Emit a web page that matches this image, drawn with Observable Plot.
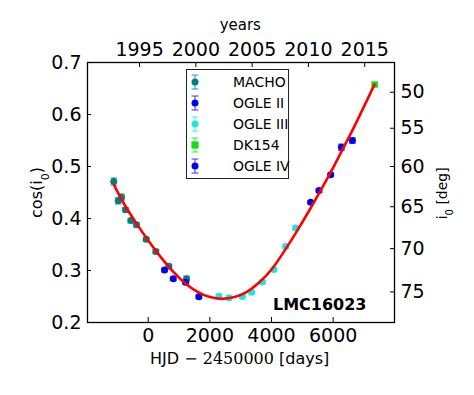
<!DOCTYPE html>
<html><head><meta charset="utf-8">
<script src="https://cdn.jsdelivr.net/npm/d3@7"></script>
<script src="https://cdn.jsdelivr.net/npm/@observablehq/plot@0.6"></script>
<style>
html,body{margin:0;padding:0;background:#fff;}
#wrap{position:relative;width:474px;height:395px;font-family:"DejaVu Sans",sans-serif;}
#wrap svg{position:absolute;left:0;top:0;}
#legend{position:absolute;left:186px;top:69px;width:101px;height:108px;border:1.3px solid #222;background:#fff;}
.row{position:absolute;left:0;height:20px;width:100px;}
.row svg{position:absolute;left:12px;top:0;}
.row span{position:absolute;left:46px;top:1px;font-size:14px;line-height:18px;color:#000;white-space:nowrap;}
</style></head><body><div id="wrap"></div>
<script>
// ---- data ----
const seriesNames  = ["MACHO", "OGLE II", "OGLE III", "DK154", "OGLE IV"];
const seriesColors = ["#007f7f", "#0000f0", "#22e2e2", "#12e012", "#0000f0"];

const machoDays = [-1117, -974, -867, -737, -565, -380, -65, 247, 669, 1244];
const machoCos  = [0.471, 0.434, 0.441, 0.417, 0.396, 0.388, 0.360, 0.3365, 0.308, 0.284];
const machoErr  = [0.007, 0.006, 0.006, 0.004, 0.004, 0.004, 0.004, 0.004, 0.004, 0.005];

const ogle2Days = [529, 812, 1211, 1643];
const ogle2Cos  = [0.301, 0.284, 0.2775, 0.2494];
const ogle2Err  = [0.003, 0.003, 0.003, 0.003];

const ogle3Days = [2292, 2617, 3052, 3354, 3702, 4078, 4458, 4783];
const ogle3Cos  = [0.250, 0.2475, 0.250, 0.2583, 0.2779, 0.3019, 0.3462, 0.3817];
const ogle3Err  = [0.006, 0.004, 0.003, 0.003, 0.003, 0.003, 0.004, 0.004];

const dk154Days = [7348];
const dk154Cos  = [0.6577];
const dk154Err  = [0.003];

const ogle4Days = [5270, 5539, 5919, 6267, 6624];
const ogle4Cos  = [0.4313, 0.4538, 0.484, 0.537, 0.550];
const ogle4Err  = [0.003, 0.003, 0.003, 0.006, 0.005];

// fitted model curve
const fitDays = [-1110, -800, -400, 0, 400, 800, 1200, 1600, 2000, 2400, 2800, 3200, 3600, 4000, 4400, 4800, 5200, 5600, 6000, 6400, 6800, 7340];
const fitCos  = [0.4648, 0.4298, 0.3921, 0.3578, 0.3263, 0.2985, 0.2757, 0.259, 0.2489, 0.2455, 0.2489, 0.2591, 0.277, 0.302, 0.3358, 0.3734, 0.413, 0.4546, 0.498, 0.5434, 0.5906, 0.6575];

// axes
const yTicks    = [0.2, 0.3, 0.4, 0.5, 0.6, 0.7];
const xTicks    = [0, 2000, 4000, 6000];
const yearTicks = [1995, 2000, 2005, 2010, 2015];
const degTicks  = [50, 55, 60, 65, 70, 75];

// ---- build tables ----
const seriesData = [
  [machoDays, machoCos, machoErr],
  [ogle2Days, ogle2Cos, ogle2Err],
  [ogle3Days, ogle3Cos, ogle3Err],
  [dk154Days, dk154Cos, dk154Err],
  [ogle4Days, ogle4Cos, ogle4Err]
];
const rows = [];
seriesData.forEach(([d, c, e], s) => d.forEach((t, i) => rows.push({s: seriesNames[s], col: seriesColors[s], t, c: c[i], e: e[i]})));
const fit = fitDays.map((t, i) => ({t, c: fitCos[i]}));

// year (calendar) -> HJD-2450000 ; degrees -> cos
const yearPos = yearTicks.map(y => (y - 2000) * 365.25 + 1545);
const degPos = degTicks.map(g => Math.cos(g * Math.PI / 180));

const cap = {draw(ctx) { ctx.moveTo(-3.5, 0); ctx.lineTo(3.5, 0); }};

const plot = Plot.plot({
  width: 474, height: 395,
  marginLeft: 87, marginRight: 80, marginTop: 62, marginBottom: 73,
  style: {fontFamily: "DejaVu Sans", fontSize: "19px", color: "black", background: "white"},
  x: {domain: [-1970, 7990]},
  y: {domain: [0.2, 0.7]},
  marks: [
    Plot.ruleX(rows, {x: "t", y1: d => d.c - d.e, y2: d => d.c + d.e, stroke: "col", strokeOpacity: 0.6, strokeWidth: 1.3}),
    Plot.dot(rows, {x: "t", y: d => d.c + d.e, symbol: cap, stroke: "col", strokeOpacity: 0.6, strokeWidth: 1.3, fill: "none"}),
    Plot.dot(rows, {x: "t", y: d => d.c - d.e, symbol: cap, stroke: "col", strokeOpacity: 0.6, strokeWidth: 1.3, fill: "none"}),
    Plot.dot(rows.filter(d => d.s !== "DK154"), {x: "t", y: "c", r: 3.5, fill: "col", stroke: "none"}),
    Plot.dot(rows.filter(d => d.s === "DK154"), {x: "t", y: "c", r: 3.6, symbol: "square", fill: "col", stroke: "none"}),
    Plot.line(fit, {x: "t", y: "c", stroke: "#ff0000", strokeWidth: 2.6, curve: "natural"}),
    Plot.tickY(yTicks, {y: d => d, insetRight: 303, stroke: "black"}),
    Plot.tickY(degPos, {y: d => d, insetLeft: 303, stroke: "black"}),
    Plot.tickX(xTicks, {x: d => d, insetTop: 255, stroke: "black"}),
    Plot.tickX(yearPos, {x: d => d, insetBottom: 255, stroke: "black"}),
    Plot.axisY(yTicks, {anchor: "left", tickSize: 0, tickPadding: 6, tickFormat: d3.format(".1f"), label: null}),
    Plot.axisY(degPos, {anchor: "right", tickSize: 0, tickPadding: 6, tickFormat: d => String(Math.round(Math.acos(d) * 180 / Math.PI)), label: null}),
    Plot.axisX(xTicks, {anchor: "bottom", tickSize: 0, tickPadding: 6, tickFormat: d => String(d), label: null}),
    Plot.axisX(yearPos, {anchor: "top", tickSize: 0, tickPadding: 7, tickFormat: d => String(Math.round(2000 + (d - 1545) / 365.25)), label: null}),
    Plot.frame({stroke: "black", strokeWidth: 1.3}),
    Plot.text(["LMC16023"], {frameAnchor: "bottom-right", text: d => d, textAnchor: "end", lineAnchor: "middle", dx: -28, dy: -18, fontSize: 16, fontWeight: "bold"})
  ]
});

const wrap = document.getElementById("wrap");
wrap.appendChild(plot);

// axis titles
const svg = d3.select(plot);
svg.append("text").attr("x", 240.3).attr("y", 30).attr("text-anchor", "middle")
  .style("font-size", "15px").style("font-family", "DejaVu Sans").text("years");

const xl = svg.append("text").attr("x", 239.7).attr("y", 364).attr("text-anchor", "middle").style("font-size", "16px");
xl.append("tspan").style("font-family", "DejaVu Sans").text("HJD");
xl.append("tspan").style("font-family", "DejaVu Serif").text(" \u2212 2450000 ");
xl.append("tspan").style("font-family", "DejaVu Sans").text("[days]");

const yl = svg.append("text").attr("transform", "translate(42,192.5) rotate(-90)").attr("text-anchor", "middle")
  .style("font-size", "16px").style("font-family", "DejaVu Sans");
yl.append("tspan").text("cos(i");
yl.append("tspan").attr("baseline-shift", "sub").style("font-size", "11px").text("0");
yl.append("tspan").text(")");

const rl = svg.append("text").attr("transform", "translate(446.5,193.3) rotate(-90)").attr("text-anchor", "middle")
  .style("font-size", "14px").style("font-family", "DejaVu Sans");
rl.append("tspan").text("i");
rl.append("tspan").attr("baseline-shift", "sub").style("font-size", "10px").text("0");
rl.append("tspan").text(" [deg]");

// legend
const legend = document.createElement("div");
legend.id = "legend";
seriesNames.forEach((name, i) => {
  const row = document.createElement("div");
  row.className = "row";
  row.style.top = (2 + i * 21) + "px";
  const col = seriesColors[i];
  const mk = name === "DK154"
    ? `<rect x="4.4" y="6.4" width="7.2" height="7.2" fill="${col}"/>`
    : `<circle cx="8" cy="10" r="3.5" fill="${col}"/>`;
  row.innerHTML = `<svg width="16" height="20">
    <line x1="8" x2="8" y1="3" y2="17" stroke="${col}" stroke-opacity="0.6" stroke-width="1.3"/>
    <line x1="4.5" x2="11.5" y1="3" y2="3" stroke="${col}" stroke-opacity="0.6" stroke-width="1.3"/>
    <line x1="4.5" x2="11.5" y1="17" y2="17" stroke="${col}" stroke-opacity="0.6" stroke-width="1.3"/>
    ${mk}</svg><span>${name}</span>`;
  legend.appendChild(row);
});
wrap.appendChild(legend);
</script>
</body></html>
